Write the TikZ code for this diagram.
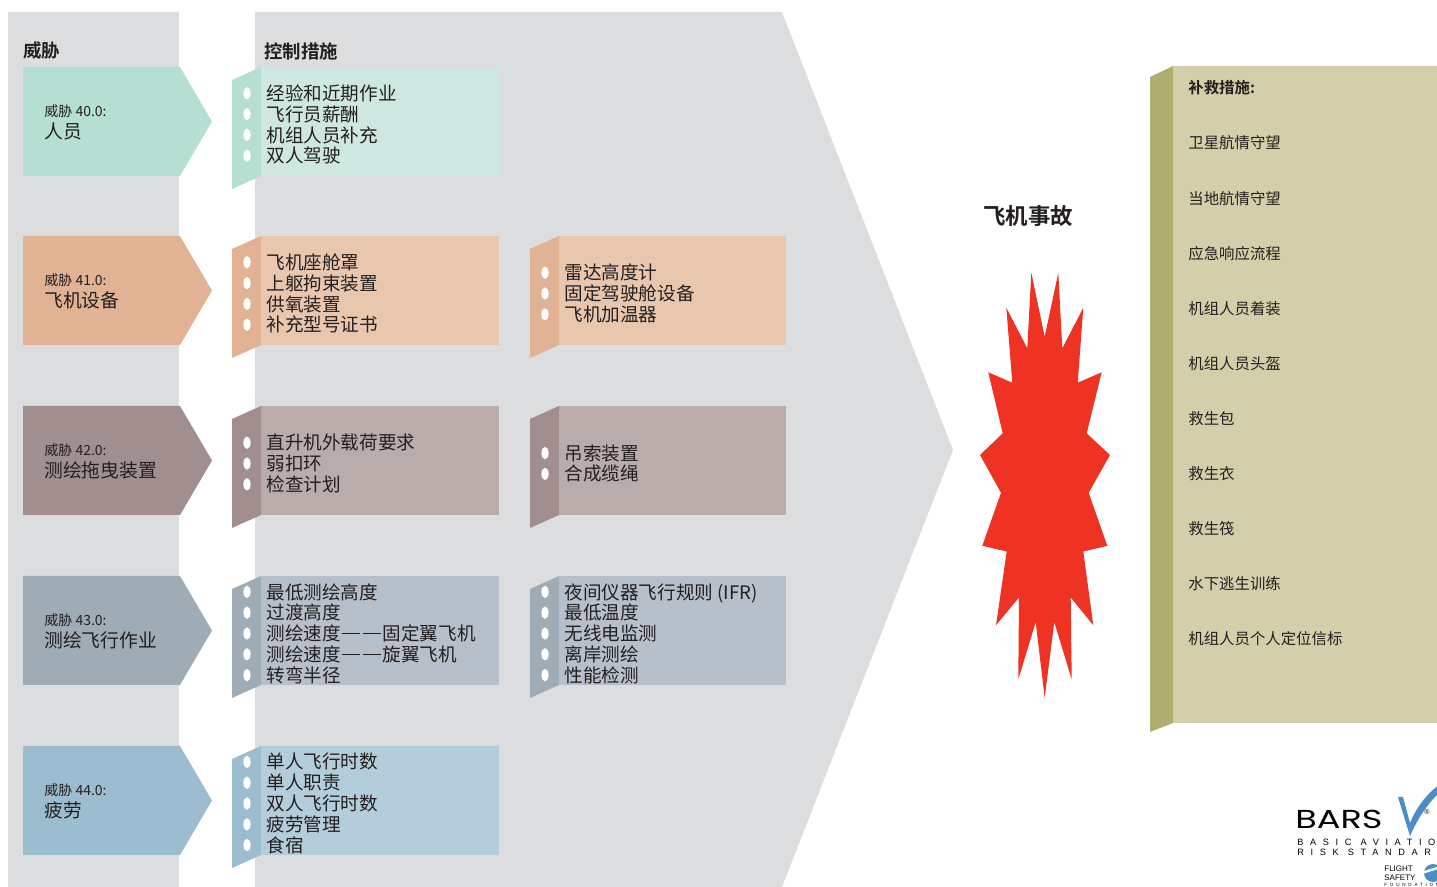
\documentclass[tikz,border=0pt]{standalone}
\usepackage{fontspec}
\setmainfont{Noto Sans CJK SC}[BoldFont={Noto Sans CJK SC Bold}]
\newfontfamily\barslogo{Poppins}[FakeStretch=1.35]
\newfontfamily\barssmall{Liberation Sans}
\usetikzlibrary{positioning}

\definecolor{bggray}{HTML}{DCDDDF}
\definecolor{ink}{HTML}{231F20}
\definecolor{peopleD}{HTML}{B5DFD3}
\definecolor{peopleL}{HTML}{CEE8E1}
\definecolor{equipD}{HTML}{E1B394}
\definecolor{equipL}{HTML}{E9C7AE}
\definecolor{towD}{HTML}{A08F8E}
\definecolor{towL}{HTML}{B9ACAB}
\definecolor{surveyD}{HTML}{9FABB5}
\definecolor{surveyL}{HTML}{B7C0CA}
\definecolor{fatigueD}{HTML}{9CBDCF}
\definecolor{fatigueL}{HTML}{B4CDDB}
\definecolor{recovD}{HTML}{B0AE6E}
\definecolor{recovL}{HTML}{D3CFAA}
\definecolor{crash}{HTML}{EE3224}
\definecolor{barsblue}{HTML}{4C8DC9}

% spaced double dash
\newcommand{\ddash}{\kern0.05em\rule[0.36em]{1em}{0.055em}\kern0.12em\rule[0.36em]{1em}{0.055em}\kern0.08em}
% threat arrow: name, top, colour, number, title
\newcommand{\threat}[5]{%
  \fill[#3D] (23,#2) -- (180,#2) -- (212,#2+54.5) -- (180,#2+109) -- (23,#2+109) -- cycle;
  \node[tnum] (#1num) at (44,#2+44) {威胁 #4:};
  \node[tname] (#1) at (44,#2+64.5) {#5};
}
% control box: name, flap x, top, right x, colour, lines, items
\newcommand{\control}[7]{%
  \fill[#5D] (#2,#3+13) -- (#2+29,#3) -- (#2+29,#3+109) -- (#2,#3+122) -- cycle;
  \fill[#5L] (#2+29,#3) rectangle (#4,#3+109);
  \foreach \k in {1,...,#6}
    \fill[white] (#2+15,{#3+57.5+(\k-(#6+1)/2)*20.8}) ellipse (1.8pt and 3.1pt);
  \node[ctext] (#1) at (#2+34,#3+57.5) {#7};
}

\begin{document}
\begin{tikzpicture}[x=0.5pt,y=-0.5pt]
\tikzstyle{head}=[anchor=west, inner sep=0, text=ink, font=\bfseries\fontsize{9.2}{11}\selectfont]
\tikzstyle{tnum}=[anchor=west, inner sep=0, text=ink, font=\fontsize{7}{8}\selectfont]
\tikzstyle{tname}=[anchor=west, inner sep=0, text=ink, font=\fontsize{9.4}{11}\selectfont]
\tikzstyle{ctext}=[anchor=west, inner sep=0, align=left, text=ink, font=\fontsize{9.3}{10.4}\selectfont]
\tikzstyle{remedy}=[anchor=west, inner sep=0, text=ink, font=\fontsize{7.7}{9}\selectfont]
\useasboundingbox (0,0) rectangle (1437,887);
\clip (0,0) rectangle (1437,887);

% grey backdrops
\fill[bggray] (8,12) rectangle (179,887);
\fill[bggray] (255,12) -- (782,12) -- (953,450) -- (782,887) -- (255,887) -- cycle;
\node[head] (threathead) at (23,51) {威胁};
\node[head] (ctrlhead) at (264,51) {控制措施};

% threats
\threat{people}{67}{people}{40.0}{人员}
\threat{equip}{236}{equip}{41.0}{飞机设备}
\threat{tow}{406}{tow}{42.0}{测绘拖曳装置}
\threat{survey}{576}{survey}{43.0}{测绘飞行作业}
\threat{fatigue}{746}{fatigue}{44.0}{疲劳}

% controls
\control{peopleA}{232}{67}{499}{people}{4}{经验和近期作业\\飞行员薪酬\\机组人员补充\\双人驾驶}
\control{equipA}{232}{236}{499}{equip}{4}{飞机座舱罩\\上躯拘束装置\\供氧装置\\补充型号证书}
\control{equipB}{530}{236}{786}{equip}{3}{雷达高度计\\固定驾驶舱设备\\飞机加温器}
\control{towA}{232}{406}{499}{tow}{3}{直升机外载荷要求\\弱扣环\\检查计划}
\control{towB}{530}{406}{786}{tow}{2}{吊索装置\\合成缆绳}
\control{surveyA}{232}{576}{499}{survey}{5}{最低测绘高度\\过渡高度\\测绘速度\ddash 固定翼飞机\\测绘速度\ddash 旋翼飞机\\转弯半径}
\control{surveyB}{530}{576}{786}{survey}{5}{夜间仪器飞行规则 (IFR)\\最低温度\\无线电监测\\离岸测绘\\性能检测}
\control{fatigueA}{232}{746}{499}{fatigue}{5}{单人飞行时数\\单人职责\\双人飞行时数\\疲劳管理\\食宿}

% the accident
\node[head, anchor=center, font=\bfseries\fontsize{11.2}{13}\selectfont] (accident) at (1028,216) {飞机事故};
\fill[crash] (1031.3,272.7) -- (1044.7,336.7) -- (1058.3,272.7) -- (1062.3,348.3)
  -- (1083.3,307.7) -- (1077.7,382.7) -- (1101.7,372.3) -- (1086.7,433.3)
  -- (1110,455) -- (1088.7,492.8) -- (1107.3,545.8) -- (1083.3,551.5)
  -- (1093.3,625.3) -- (1070.7,597.4) -- (1071.7,679.4) -- (1054.3,622.2)
  -- (1044.7,697.7) -- (1035.7,622.2) -- (1018.3,679.4) -- (1019,597.4)
  -- (996,625.3) -- (1006.7,551.5) -- (982.3,545.8) -- (1001,492.8)
  -- (980,455) -- (1002.7,433.3) -- (988.3,372.3) -- (1012.3,382.7)
  -- (1006.3,307.7) -- (1027.3,348.3) -- cycle;

% recovery measures
\fill[recovD] (1150,77) -- (1173,66) -- (1173,723) -- (1150,732) -- cycle;
\fill[recovL] (1173,66) rectangle (1440,723);
\node[remedy, font=\bfseries\fontsize{7.7}{9}\selectfont] (recovhead) at (1188,88) {补救措施:};
\foreach \item [count=\k] in {卫星航情守望,当地航情守望,应急响应流程,机组人员着装,机组人员头盔,
    救生包,救生衣,救生筏,水下逃生训练,机组人员个人定位信标}
  \node[remedy] (rem\k) at (1188,88+55.1*\k) {\item};

% BARS logo
\node[anchor=west, inner sep=0, font=\barslogo\fontsize{13}{14}\selectfont] (bars) at (1295,819) {BARS};
\fill[barsblue] (1398,797) -- (1403,797) -- (1410,823) .. controls (1417,806) and (1427,794) .. (1440,784)
  -- (1440,792) .. controls (1428,803) and (1418,818) .. (1410,836) -- cycle;
\node[anchor=center, inner sep=0, font=\barssmall\fontsize{3.5}{4}\selectfont] (reg) at (1427,812) {®};
\node[anchor=north west, inner sep=0, align=left, font=\barssmall\fontsize{4.6}{5}\selectfont\addfontfeature{LetterSpace=72}] (barsname) at (1297,839) {BASIC AVIATION\\RISK STANDARDS};
\node[anchor=west, inner sep=0, align=left, font=\barssmall\fontsize{4}{4.4}\selectfont] (fsf) at (1384,873) {FLIGHT\\SAFETY};
\node[anchor=west, inner sep=0, font=\barssmall\fontsize{2.3}{3}\selectfont\addfontfeature{LetterSpace=60}] (fsfound) at (1384,885) {FOUNDATION};
\fill[barsblue] (1433,873) circle (4.5pt);
\fill[white] (1424,871) -- (1440,866) -- (1440,868.5) -- (1424,873.5) -- cycle;
\end{tikzpicture}
\end{document}
